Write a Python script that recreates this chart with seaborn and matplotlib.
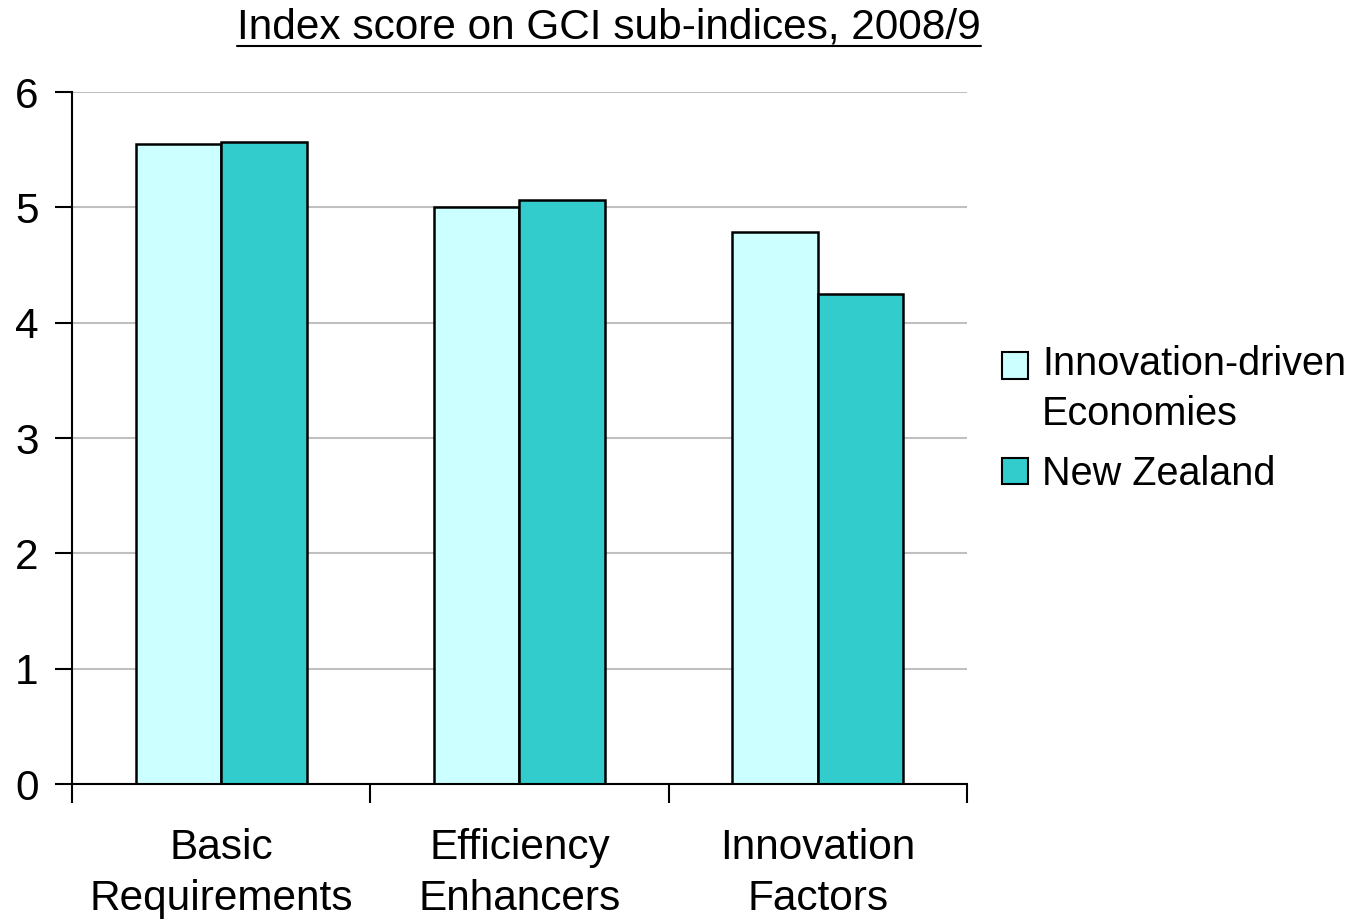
import matplotlib
matplotlib.use("Agg")
import matplotlib.pyplot as plt
import seaborn as sns
import pandas as pd
from matplotlib.patches import Patch
from matplotlib.ticker import FixedLocator

categories = ["Basic\nRequirements", "Efficiency\nEnhancers", "Innovation\nFactors"]
series_names = ["Innovation-driven\nEconomies", "New Zealand"]
innovation_driven = [5.55, 5.00, 4.79]
new_zealand = [5.57, 5.06, 4.25]
colors = ["#CCFFFF", "#33CCCC"]
yticks = [0, 1, 2, 3, 4, 5, 6]

sns.set_theme(style="white")
plt.rcParams['font.family'] = ['Liberation Sans', 'DejaVu Sans']
plt.rcParams['text.color'] = 'black'
plt.rcParams['xtick.color'] = 'black'
plt.rcParams['ytick.color'] = 'black'

FS = 30.5
LFS = 28.5

df = pd.DataFrame({
    "cat": categories * 2,
    "series": [series_names[0]] * 3 + [series_names[1]] * 3,
    "value": innovation_driven + new_zealand,
})

fig = plt.figure(figsize=(13.64, 9.22), dpi=100)
ax = fig.add_axes([72/1364, 138/922, (967-72)/1364, (784-92)/922])

sns.barplot(data=df, x="cat", y="value", hue="series", palette=colors,
            width=0.574, edgecolor="black", linewidth=1.8, ax=ax,
            legend=False, saturation=1)

ax.set_ylim(0, 6)
ax.set_xlim(-0.5, 2.5)
ax.set_yticks(yticks)
ax.set_yticklabels([str(t) for t in yticks], fontsize=FS)
ax.yaxis.grid(True, color="#C0C0C0", linewidth=1.5)
ax.set_axisbelow(True)
ax.set_xlabel("")
ax.set_ylabel("")

for s in ["top", "right"]:
    ax.spines[s].set_visible(False)
for s in ["left", "bottom"]:
    ax.spines[s].set_color("black")
    ax.spines[s].set_linewidth(1.5)

ax.tick_params(axis="y", which="major", direction="out", length=12, width=1.5,
               color="black", left=True, pad=12, labelcolor="black")
ax.tick_params(axis="x", which="major", length=0, pad=32, labelsize=FS, labelcolor="black")
ax.xaxis.set_minor_locator(FixedLocator([-0.5, 0.5, 1.5, 2.5]))
ax.tick_params(axis="x", which="minor", direction="out", length=14, width=1.5,
               color="black", bottom=True)
for lbl in ax.get_xticklabels():
    lbl.set_linespacing(1.35)

fig.text(609/1364, 1 - 28/922, "Index score on GCI sub-indices, 2008/9",
         ha="center", va="center", fontsize=FS, color="black")
# underline title
fig.canvas.draw()
t = fig.texts[0]
bb = t.get_window_extent(renderer=fig.canvas.get_renderer())
fig.add_artist(plt.Line2D([bb.x0 / 1364, bb.x1 / 1364],
                          [(bb.y0 + 2) / 922, (bb.y0 + 2) / 922],
                          color="black", linewidth=1.5, transform=fig.transFigure))

handles = [Patch(facecolor=c, edgecolor="black", linewidth=1.5) for c in colors]
leg = fig.legend(handles, series_names, loc="upper left",
                 bbox_to_anchor=(1002/1364, 1 - 345/922), frameon=False,
                 fontsize=LFS, handlelength=0.66, handleheight=0.66,
                 handletextpad=0.35, labelspacing=0.55, borderaxespad=0,
                 borderpad=0)
for txt in leg.get_texts():
    txt.set_linespacing(1.4)
    txt.set_color("black")
# align first handle with the first text line, as in the reference
h0 = leg.legend_handles[0]
h0.set_y(h0.get_y() + 17.5)

fig.savefig("out.png", dpi=100)
